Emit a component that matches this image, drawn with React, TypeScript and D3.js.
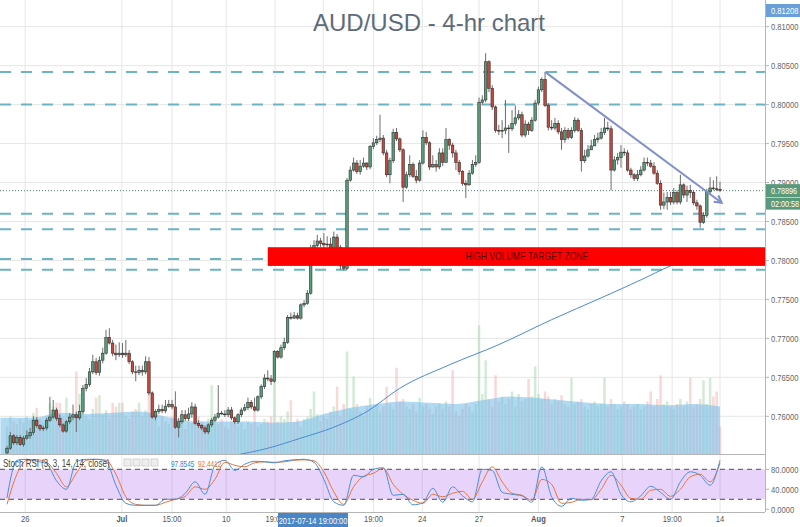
import React from "react";
import * as d3 from "d3";

const firstOpen = 0.7553;
const closes = [
  0.7559,0.7575,0.7566,0.7573,0.7564,0.7572,0.7575,0.7579,0.7595,0.7588,
  0.7584,0.7585,0.7595,0.7599,0.7608,0.7597,0.7589,0.7581,0.7593,0.7599,
  0.7602,0.7598,0.7606,0.7636,0.7641,0.7657,0.7670,0.7656,0.7672,0.7681,
  0.7701,0.7694,0.7681,0.7679,0.7681,0.7679,0.7681,0.7670,0.7657,0.7656,
  0.7659,0.7657,0.7670,0.7630,0.7599,0.7606,0.7609,0.7607,0.7613,0.7615,
  0.7612,0.7586,0.7593,0.7602,0.7597,0.7603,0.7612,0.7591,0.7588,0.7585,
  0.7580,0.7589,0.7595,0.7599,0.7604,0.7603,0.7602,0.7608,0.7598,0.7593,
  0.7602,0.7608,0.7611,0.7618,0.7612,0.7608,0.7625,0.7638,0.7649,0.7648,
  0.7645,0.7683,0.7676,0.7688,0.7695,0.7727,0.7726,0.7729,0.7726,0.7743,
  0.7745,0.7758,0.7816,0.7819,0.7825,0.7822,0.7820,0.7821,0.7816,0.7830,
  0.7817,0.7793,0.7790,0.7903,0.7916,0.7925,0.7914,0.7921,0.7925,0.7920,
  0.7946,0.7951,0.7955,0.7957,0.7938,0.7910,0.7928,0.7964,0.7956,0.7942,
  0.7894,0.7910,0.7923,0.7908,0.7903,0.7925,0.7958,0.7951,0.7920,0.7923,
  0.7920,0.7938,0.7926,0.7955,0.7948,0.7938,0.7926,0.7914,0.7899,0.7897,
  0.7912,0.7923,0.7926,0.8003,0.8006,0.8055,0.8021,0.7997,0.7967,0.7966,
  0.7967,0.7970,0.7969,0.7976,0.7983,0.7987,0.7961,0.7975,0.7967,0.7980,
  0.8002,0.8019,0.8032,0.7999,0.7971,0.7970,0.7976,0.7965,0.7955,0.7967,
  0.7958,0.7967,0.7980,0.7967,0.7928,0.7934,0.7942,0.7947,0.7955,0.7957,
  0.7964,0.7970,0.7969,0.7916,0.7929,0.7932,0.7939,0.7938,0.7916,0.7910,
  0.7905,0.7910,0.7916,0.7926,0.7925,0.7921,0.7912,0.7899,0.7871,0.7875,
  0.7881,0.7875,0.7887,0.7875,0.7897,0.7884,0.7890,0.7887,0.7874,0.7870,
  0.7849,0.7858,0.7888,0.7893,0.7892,0.7891,0.7890
];
const highs = [
  0.7562,0.7580,0.7577,0.7576,0.7576,0.7575,0.7582,0.7585,0.7600,0.7599,
  0.7590,0.7588,0.7598,0.7625,0.7621,0.7611,0.7602,0.7591,0.7595,0.7604,
  0.7615,0.7606,0.7615,0.7640,0.7649,0.7662,0.7679,0.7675,0.7677,0.7688,
  0.7711,0.7713,0.7698,0.7692,0.7695,0.7694,0.7698,0.7685,0.7672,0.7665,
  0.7665,0.7665,0.7677,0.7676,0.7632,0.7609,0.7615,0.7615,0.7621,0.7621,
  0.7621,0.7632,0.7598,0.7608,0.7608,0.7611,0.7618,0.7616,0.7595,0.7590,
  0.7588,0.7591,0.7598,0.7603,0.7640,0.7607,0.7608,0.7612,0.7612,0.7600,
  0.7604,0.7611,0.7616,0.7624,0.7621,0.7624,0.7627,0.7641,0.7654,0.7659,
  0.7653,0.7685,0.7685,0.7692,0.7701,0.7730,0.7733,0.7734,0.7733,0.7745,
  0.7749,0.7762,0.7820,0.7826,0.7833,0.7829,0.7835,0.7831,0.7829,0.7837,
  0.7834,0.7820,0.7796,0.7906,0.7921,0.7932,0.7929,0.7929,0.7932,0.7926,
  0.7948,0.7957,0.7960,0.7987,0.7961,0.7942,0.7932,0.7969,0.7970,0.7958,
  0.7944,0.7914,0.7935,0.7926,0.7916,0.7929,0.7967,0.7965,0.7953,0.7935,
  0.7929,0.7944,0.7944,0.7970,0.7957,0.7951,0.7942,0.7929,0.7916,0.7903,
  0.7916,0.7929,0.7935,0.8009,0.8012,0.8066,0.8057,0.8025,0.7999,0.7974,
  0.7980,0.8006,0.7974,0.7993,0.7999,0.7993,0.7991,0.7980,0.7978,0.7984,
  0.8006,0.8023,0.8035,0.8042,0.8002,0.7980,0.7983,0.7980,0.7970,0.7971,
  0.7970,0.7971,0.7984,0.7983,0.7970,0.7942,0.7948,0.7955,0.7961,0.7964,
  0.7970,0.7983,0.7978,0.7973,0.7934,0.7938,0.7948,0.7944,0.7942,0.7919,
  0.7912,0.7916,0.7921,0.7932,0.7932,0.7929,0.7926,0.7916,0.7903,0.7887,
  0.7888,0.7888,0.7893,0.7890,0.7910,0.7899,0.7896,0.7897,0.7890,0.7878,
  0.7872,0.7862,0.7892,0.7907,0.7903,0.7908,0.7901
];
const lows = [
  0.7550,0.7557,0.7563,0.7563,0.7562,0.7561,0.7570,0.7571,0.7576,0.7585,
  0.7581,0.7581,0.7582,0.7593,0.7597,0.7594,0.7586,0.7579,0.7579,0.7590,
  0.7595,0.7580,0.7595,0.7603,0.7632,0.7638,0.7654,0.7653,0.7652,0.7668,
  0.7679,0.7692,0.7677,0.7672,0.7676,0.7675,0.7676,0.7667,0.7654,0.7645,
  0.7653,0.7652,0.7654,0.7627,0.7597,0.7595,0.7603,0.7604,0.7604,0.7611,
  0.7609,0.7584,0.7573,0.7590,0.7594,0.7594,0.7598,0.7589,0.7585,0.7582,
  0.7577,0.7577,0.7586,0.7593,0.7597,0.7602,0.7599,0.7599,0.7595,0.7590,
  0.7590,0.7599,0.7606,0.7608,0.7609,0.7606,0.7606,0.7622,0.7635,0.7645,
  0.7640,0.7643,0.7674,0.7674,0.7685,0.7693,0.7724,0.7725,0.7724,0.7724,
  0.7740,0.7743,0.7756,0.7813,0.7816,0.7817,0.7816,0.7817,0.7811,0.7813,
  0.7813,0.7788,0.7787,0.7788,0.7901,0.7914,0.7911,0.7910,0.7919,0.7916,
  0.7917,0.7943,0.7948,0.7952,0.7935,0.7907,0.7899,0.7925,0.7953,0.7939,
  0.7875,0.7892,0.7907,0.7906,0.7899,0.7901,0.7923,0.7948,0.7916,0.7919,
  0.7914,0.7917,0.7921,0.7925,0.7942,0.7932,0.7916,0.7910,0.7896,0.7880,
  0.7896,0.7910,0.7920,0.7924,0.7999,0.8003,0.8016,0.7993,0.7964,0.7961,
  0.7957,0.7962,0.7938,0.7966,0.7973,0.7980,0.7958,0.7958,0.7961,0.7965,
  0.7978,0.7999,0.8016,0.7997,0.7967,0.7967,0.7967,0.7962,0.7942,0.7951,
  0.7955,0.7956,0.7964,0.7965,0.7914,0.7925,0.7932,0.7942,0.7948,0.7951,
  0.7955,0.7961,0.7966,0.7890,0.7914,0.7923,0.7919,0.7934,0.7914,0.7906,
  0.7902,0.7902,0.7908,0.7914,0.7921,0.7919,0.7910,0.7897,0.7865,0.7866,
  0.7865,0.7871,0.7872,0.7872,0.7872,0.7880,0.7875,0.7880,0.7871,0.7865,
  0.7842,0.7847,0.7855,0.7884,0.7890,0.7889,0.7888
];
const volumes = [
  22,30,26,24,28,25,30,27,33,37,
  28,26,30,41,38,41,41,30,45,33,
  28,66,48,35,30,28,36,45,47,31,
  35,29,41,38,41,41,30,28,34,36,
  41,30,35,50,44,28,22,30,26,24,
  30,28,26,24,20,27,25,37,30,26,
  22,28,55,30,24,28,22,20,26,24,
  22,25,20,26,24,38,22,24,28,26,
  30,57,26,30,28,34,43,25,28,22,
  28,30,36,50,32,26,30,28,34,38,
  54,30,40,82,36,62,40,34,30,38,
  45,36,40,34,38,54,40,36,69,42,
  44,38,36,40,34,45,38,40,36,32,
  38,40,36,42,38,67,34,30,36,40,
  38,34,40,103,48,75,44,38,63,42,
  46,40,44,50,38,48,42,44,60,46,
  70,48,44,50,46,40,44,42,47,40,
  38,61,40,42,44,38,36,40,42,38,
  40,61,38,44,40,36,38,42,40,36,
  38,40,36,38,42,50,38,44,63,40,
  42,38,36,40,44,38,42,61,38,40,
  44,59,40,61,46,50,22
];
const volMaIdx = [-2,8,16,24,32,40,48,56,64,72,80,88,96,104,112,120,128,136,144,152,160,168,176,184,192,200,208,216];
const volMa = [29,29,33,32,33,34,30,26,26,26,25,26,32,37,40,42,41,40,43,46,45,43,41,40,40,39,40,38];

const smaIdx = [69,79,89,99,109,119,134,149,165,180,192,201,216];
const smaVal = [0.7550,0.7559,0.7572,0.7586,0.7606,0.7636,0.7666,0.7692,0.7724,0.7752,0.7775,0.7793,0.7813];

const stochIdx = [0,3,6,9,12,15,18,21,24,27,30,33,36,39,42,45,48,51,54,57,60,63,66,69,72,75,78,81,84,87,90,93,96,99,102,105,108,111,114,117,120,123,126,129,132,135,138,141,144,147,150,153,156,159,162,165,168,171,174,177,180,183,186,189,192,195,198,201,204,207,210,213,216];
const stochK = [23,98,100,96,91,57,40,95,100,100,96,48,12,8,8,8,20,20,32,55,30,88,98,78,90,96,95,93,97,99,100,94,60,15,8,68,65,80,83,28,30,9,13,42,14,45,27,15,80,78,34,30,27,14,85,25,6,22,18,20,57,75,30,15,27,46,34,20,55,75,68,48,98];
const stochD = [10,70,98,99,94,72,45,72,98,100,98,70,25,10,8,8,14,20,26,45,40,60,94,88,85,93,95,94,95,98,99,97,75,35,10,45,66,72,82,50,30,18,12,30,25,32,36,20,55,85,55,32,28,18,60,50,12,14,20,19,40,68,48,22,20,38,40,26,40,65,70,55,92];

const priceTicks = [0.76,0.765,0.77,0.775,0.78,0.785,0.79,0.795,0.80,0.805,0.81];
const stochTicks = [80,40,0];
const xGridIdx = [5.5,34.8,50,66.4,81.2,95.8,111,125.8,143,161,186.4,201.5,216];
const xTickLabels = ["26","Jul","15:00","10","19:00","19:00","24","27","Aug","7","19:00","14"];
const xTickIdx = [5.5,34.8,50,66.4,81.2,111,125.8,143,161,186.4,201.5,216];
const xTickBold = ["Jul","Aug"];

const levels = [0.8042,0.8000,0.7860,0.7840,0.7802,0.7788];
const zonePrices = [0.7793,0.7817];
const zoneStartIdx = 79;
const zoneLabelIdx = 157.5;
const zoneLabel = "HIGH VOLUME TARGET ZONE";
const trendIdx = [163,216.5];
const trendPrice = [0.8042,0.7874];
const lastPrice = 0.78896;
const topPrice = 0.81208;
const crossIdx = 92.7;
const crossLabel = "2017-07-14 19:00:00";
const title = "AUD/USD - 4-hr chart";
const stochTitle = "Stoch RSI (3, 3, 14, 14, close)";
const stochValues = ["97.8545","92.4412"];
const countdown = "02:00:58";

const FONT = "'Liberation Sans', Arial, sans-serif";

function SText(props: any) {
  const { x, y, size = 9.5, fill = "#555", anchor = "start", weight = 400, sx = 0.8, children } = props;
  return (
    <g transform={`translate(${x},${y}) scale(${sx},1)`}>
      <text x={0} y={0} fontSize={size} fill={fill} textAnchor={anchor} fontWeight={weight} fontFamily={FONT}>{children}</text>
    </g>
  );
}

export default function App() {
  const W = 800, H = 527;
  const axisX = 765, mainBottom = 454, stochTop = 455, stochBottom = 512;
  const x = d3.scaleLinear().domain([0, 216]).range([7, 720]);
  const y = d3.scaleLinear().domain([0.76, 0.81]).range([416.3, 26.7]);
  const vy = d3.scaleLinear().domain([0, 100]).range([mainBottom, mainBottom - 125]);
  const sy = d3.scaleLinear().domain([0, 100]).range([509.3, 459.3]);

  const n = Math.min(closes.length, highs.length, lows.length);
  const opens = closes.map((c, i) => (i === 0 ? firstOpen : closes[i - 1]));
  const bw = 2.5;

  const volArea = d3.area<number>()
    .x((_, i) => x(volMaIdx[i]))
    .y0(mainBottom)
    .y1((d) => vy(d))
    .curve(d3.curveMonotoneX);

  const smaLine = d3.line<number>()
    .x((_, i) => x(smaIdx[i]))
    .y((d) => y(d))
    .curve(d3.curveMonotoneX);

  const stLine = d3.line<number>()
    .x((_, i) => x(stochIdx[i]))
    .y((d) => sy(d))
    .curve(d3.curveMonotoneX);

  const tx0 = x(trendIdx[0]), ty0 = y(trendPrice[0]);
  const tx1 = x(trendIdx[1]), ty1 = y(trendPrice[1]);
  const ang = Math.atan2(ty1 - ty0, tx1 - tx0);
  const ah = 8;
  const a1x = tx1 - ah * Math.cos(ang - 0.5), a1y = ty1 - ah * Math.sin(ang - 0.5);
  const a2x = tx1 - ah * Math.cos(ang + 0.5), a2y = ty1 - ah * Math.sin(ang + 0.5);

  const upFill = "#55a07c", downFill = "#c8473d";
  const crossW = 70;
  const crossLeft = x(crossIdx) - crossW / 2;

  return (
    <svg width={W} height={H} style={{ position: "absolute", left: 0, top: 0, background: "#fff" }} fontFamily={FONT}>
      <defs>
        <clipPath id="mainClip"><rect x={0} y={0} width={axisX} height={mainBottom} /></clipPath>
        <clipPath id="stochClip"><rect x={0} y={stochTop} width={axisX} height={stochBottom - stochTop} /></clipPath>
        <clipPath id="timeClip"><rect x={0} y={stochBottom} width={crossLeft} height={H - stochBottom} /><rect x={crossLeft + crossW} y={stochBottom} width={W} height={H - stochBottom} /></clipPath>
      </defs>
      <rect x={0} y={0} width={W} height={H} fill="#fff" />

      {/* grid */}
      {priceTicks.map((t) => (
        <line key={"hg" + t} x1={0} x2={axisX} y1={y(t)} y2={y(t)} stroke="#e6e6e6" strokeWidth={1} />
      ))}
      {xGridIdx.map((t, i) => (
        <line key={"vg" + i} x1={x(t)} x2={x(t)} y1={0} y2={stochBottom} stroke="#e6e6e6" strokeWidth={1} />
      ))}

      <g clipPath="url(#mainClip)">
        {volumes.slice(0, n).map((v, i) => (
          <rect key={"v" + i} x={x(i) - bw / 2} y={vy(v)} width={bw} height={mainBottom - vy(v)}
            fill={closes[i] >= opens[i] ? "#9bd3a8" : "#f2a9a9"} opacity={0.45} />
        ))}
        <path d={volArea(volMa) || ""} fill="#7fbfea" opacity={0.6} />

        {levels.map((p, i) => (
          <line key={"lv" + i} x1={0} x2={axisX} y1={y(p)} y2={y(p)} stroke="#6cb3c4" strokeWidth={2} strokeDasharray="11 10" />
        ))}
        <line x1={0} x2={axisX} y1={y(lastPrice)} y2={y(lastPrice)} stroke="#4e7f66" strokeWidth={1} strokeDasharray="1 2" />
        <path d={smaLine(smaVal) || ""} fill="none" stroke="#4b8bd0" strokeWidth={1} />

        {closes.slice(0, n).map((c, i) => {
          const o = opens[i];
          const hi = Math.max(highs[i], o, c), lo = Math.min(lows[i], o, c);
          const up = c >= o;
          const top = y(Math.max(o, c)), bot = y(Math.min(o, c));
          return (
            <g key={"c" + i}>
              <line x1={x(i)} x2={x(i)} y1={y(hi)} y2={y(lo)} stroke="#6d6d6d" strokeWidth={1} />
              <rect x={x(i) - bw / 2} y={top} width={bw} height={Math.max(0.8, bot - top)}
                fill={up ? upFill : downFill} stroke="#2e2e2e" strokeWidth={0.6} />
            </g>
          );
        })}

        <rect x={x(zoneStartIdx)} y={y(zonePrices[1])} width={axisX - x(zoneStartIdx)} height={y(zonePrices[0]) - y(zonePrices[1])} fill="#ff0000" />
        <SText x={x(zoneLabelIdx)} y={(y(zonePrices[0]) + y(zonePrices[1])) / 2 + 3.5} size={10.5} fill="#5a0000" anchor="middle" sx={0.82}>{zoneLabel}</SText>

        <line x1={tx0} y1={ty0} x2={tx1} y2={ty1} stroke="#8190c9" strokeWidth={2} />
        <polyline points={`${a1x},${a1y} ${tx1},${ty1} ${a2x},${a2y}`} fill="none" stroke="#7d8ccb" strokeWidth={2} />
      </g>

      <text x={429} y={31} fontSize={24} fill="#5e6b79" textAnchor="middle" fontFamily={FONT}>{title}</text>

      {/* stoch pane */}
      <g clipPath="url(#stochClip)">
        <rect x={0} y={sy(80)} width={axisX} height={sy(20) - sy(80)} fill="rgba(150,60,230,0.22)" />
        <line x1={0} x2={axisX} y1={sy(80)} y2={sy(80)} stroke="#4d4d66" strokeDasharray="5 4" />
        <line x1={0} x2={axisX} y1={sy(20)} y2={sy(20)} stroke="#4d4d66" strokeDasharray="5 4" />
        <path d={stLine(stochD) || ""} fill="none" stroke="#e8743b" strokeWidth={1} />
        <path d={stLine(stochK) || ""} fill="none" stroke="#4a8fd6" strokeWidth={1} />
      </g>
      <SText x={3} y={467} size={10} fill="#444" sx={0.8}>{stochTitle}</SText>
      {[0, 1, 2, 3].map((k) => (
        <rect key={"ic" + k} x={124 + k * 9} y={459} width={7} height={7} fill="#eee" stroke="#bbb" strokeWidth={0.6} />
      ))}
      <SText x={171} y={467} size={9} fill="#3d7fd0" sx={0.72}>{stochValues[0]}</SText>
      <SText x={198} y={467} size={9} fill="#e8743b" sx={0.72}>{stochValues[1]}</SText>

      <line x1={0} x2={axisX} y1={mainBottom + 0.5} y2={mainBottom + 0.5} stroke="#b5b5b5" />
      <line x1={0} x2={axisX} y1={stochBottom + 0.5} y2={stochBottom + 0.5} stroke="#b5b5b5" />
      <line x1={axisX + 0.5} x2={axisX + 0.5} y1={0} y2={stochBottom} stroke="#b5b5b5" />

      {/* right axis */}
      {priceTicks.map((t) => (
        <g key={"yt" + t}>
          <line x1={axisX} x2={axisX + 4} y1={y(t)} y2={y(t)} stroke="#b5b5b5" />
          <SText x={771} y={y(t) + 3.5} size={9.5} fill="#666" sx={0.8}>{d3.format(".5f")(t)}</SText>
        </g>
      ))}
      {stochTicks.map((t) => (
        <g key={"st" + t}>
          <line x1={axisX} x2={axisX + 4} y1={sy(t)} y2={sy(t)} stroke="#b5b5b5" />
          <SText x={771} y={sy(t) + 3.5} size={9.5} fill="#666" sx={0.8}>{d3.format(".4f")(t)}</SText>
        </g>
      ))}
      <rect x={axisX + 1} y={y(topPrice) - 6.5} width={W - axisX - 1} height={13} fill="#6a9fd8" />
      <SText x={771} y={y(topPrice) + 3.5} size={9.5} fill="#fff" sx={0.8}>{d3.format(".5f")(topPrice)}</SText>
      <rect x={axisX + 1} y={y(lastPrice) - 6.5} width={W - axisX - 1} height={13} fill="#5a9a7c" />
      <SText x={771} y={y(lastPrice) + 3} size={8.5} fill="#fff" sx={0.85}>{d3.format(".5f")(lastPrice)}</SText>
      <rect x={axisX + 1} y={y(lastPrice) + 7} width={W - axisX - 1} height={12} fill="#5a9a7c" />
      <SText x={771} y={y(lastPrice) + 16} size={8.5} fill="#fff" sx={0.85}>{countdown}</SText>

      {/* bottom axis */}
      <g clipPath="url(#timeClip)">
        {xTickIdx.map((t, i) => (
          <SText key={"xt" + i} x={x(t)} y={522} size={9.5} fill="#555" anchor="middle" sx={0.8}
            weight={xTickBold.includes(xTickLabels[i]) ? 700 : 400}>{xTickLabels[i]}</SText>
        ))}
      </g>
      <rect x={crossLeft} y={513} width={crossW} height={14} fill="#4a86c5" />
      <SText x={x(crossIdx)} y={523.5} size={9.5} fill="#fff" anchor="middle" sx={0.78}>{crossLabel}</SText>
    </svg>
  );
}
